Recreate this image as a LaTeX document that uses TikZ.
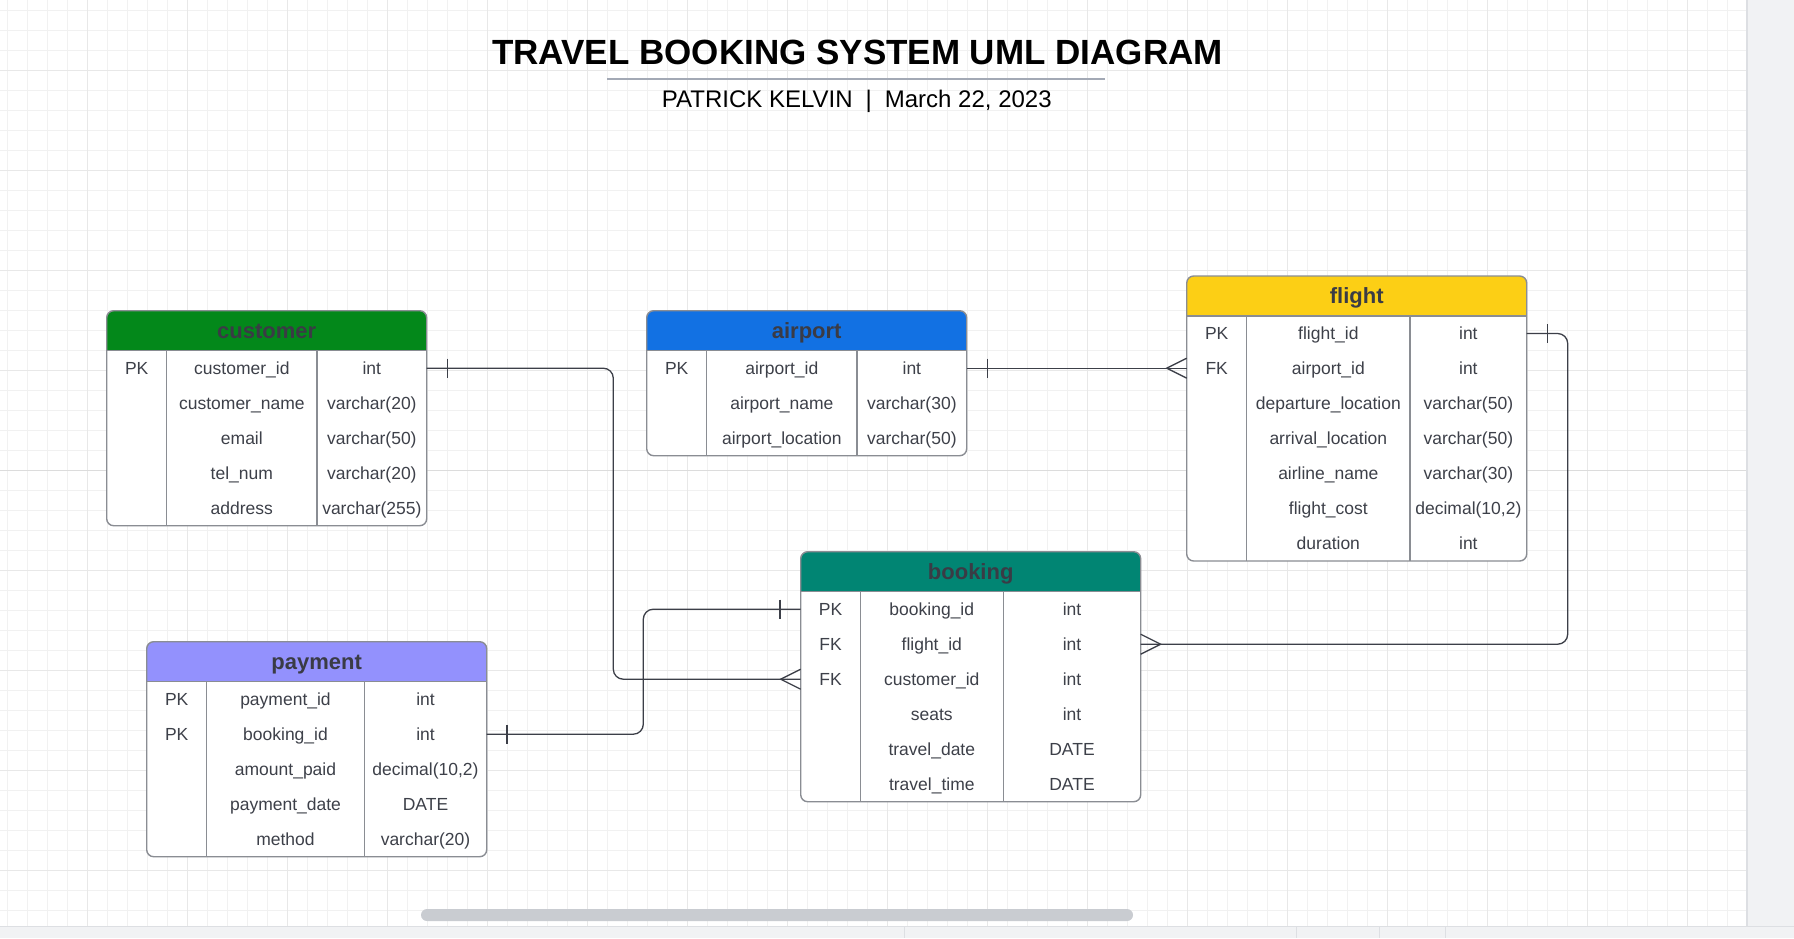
\documentclass[tikz,border=0pt]{standalone}
\usepackage{fontspec}
\setmainfont{Liberation Sans}
\usetikzlibrary{calc}
\definecolor{gminorc}{HTML}{F1F1F1}
\definecolor{gmajorc}{HTML}{E8E8E8}
\definecolor{gstrongc}{HTML}{DCDCDC}
\definecolor{tborder}{HTML}{8A8D93}
\definecolor{txt}{HTML}{3D4049}
\definecolor{htxt}{HTML}{3A3B45}
\definecolor{conncol}{HTML}{3C3F48}
\definecolor{cgreen}{HTML}{03881A}
\definecolor{cblue}{HTML}{1271E3}
\definecolor{cyellow}{HTML}{FCCF15}
\definecolor{cpurple}{HTML}{9391FD}
\definecolor{cteal}{HTML}{018573}
\definecolor{rulecol}{HTML}{A3A9B5}
\definecolor{panelc}{HTML}{F1F2F4}
\definecolor{panelline}{HTML}{DDDFE3}
\definecolor{scrollc}{HTML}{C9CCD1}

\tikzset{
  gminor/.style={gminorc, line width=1},
  gmajor/.style={gmajorc, line width=1},
  tline/.style={tborder, line width=1.4},
  tframe/.style={draw=tborder, line width=1.4, rounded corners=7, inner sep=0, outer sep=0},
  headtext/.style={text=htxt, font=\fontsize{22}{26}\selectfont\bfseries, inner sep=0, text height=15.8pt, text depth=0pt},
  celltext/.style={text=txt, font=\fontsize{17.5}{21}\selectfont, inner sep=0, text height=12.6pt, text depth=0pt},
  conn/.style={conncol, line width=1.3},
}

% #1 name, #2 x0, #3 y0, #4 xa, #5 xb, #6 x1, #7 nrows, #8 colour, #9 rows
\newcommand\ertable[9]{%
  \pgfmathsetmacro\erbot{#3+40+35*#7}%
  \pgfmathsetmacro\erw{#6-#2}%
  \pgfmathsetmacro\erh{\erbot-#3}%
  \begin{scope}
    \clip[rounded corners=7] (#2,#3) rectangle (#6,\erbot);
    \fill[white] (#2,#3) rectangle (#6,\erbot);
    \fill[#8] (#2,#3) rectangle (#6,#3+40);
  \end{scope}
  \draw[tline] (#2,#3+40) -- (#6,#3+40);
  \draw[tline] (#4,#3+40) -- (#4,\erbot);
  \draw[tline] (#5,#3+40) -- (#5,\erbot);
  \node[tframe, minimum width=\erw pt, minimum height=\erh pt, anchor=north west] (#1) at (#2,#3) {};
  \node[headtext] (#1-head) at ({(#2+#6)/2},#3+20) {#1};
  \foreach \ka/\fa/\ta [count=\ii] in {#9} {
    \node[celltext] (#1-\ii-k) at ({(#2+#4)/2},#3+40+35*\ii-17.5) {\ka};
    \node[celltext] (#1-\ii-f) at ({(#4+#5)/2},#3+40+35*\ii-17.5) {\fa};
    \node[celltext] (#1-\ii-t) at ({(#5+#6)/2},#3+40+35*\ii-17.5) {\ta};
  }
}
\newcommand\onemark[2]{\draw[conn] ($(#1)+(#2,-9.5)$) -- ($(#1)+(#2,9.5)$);}
\newcommand\manymark[2]{\draw[conn] ($(#1)+(0,-10)$) -- ($(#1)+(#2,0)$) -- ($(#1)+(0,10)$);}

\begin{document}
\begin{tikzpicture}[x=1pt,y=-1pt]
\useasboundingbox (0,0) rectangle (1794,938);
\fill[white] (0,0) rectangle (1794,938);
% grid
\foreach \x in {7,27,...,1747} \draw[gminor] (\x,0) -- (\x,926);
\foreach \y in {10.5,30.5,...,920} \draw[gminor] (0,\y) -- (1747,\y);
\foreach \x in {87,187,...,1687} \draw[gmajor] (\x,0) -- (\x,926);
\foreach \y in {70.5,170.5,...,900} \draw[gmajor] (0,\y) -- (1747,\y);
\draw[gstrongc, line width=1.4] (0,470.5) -- (1747,470.5);
% side panel and bottom strip
\fill[panelc] (1747,0) rectangle (1794,938);
\draw[panelline, line width=1.5] (1747,0) -- (1747,926);
\fill[panelc] (0,926) rectangle (1794,938);
\draw[panelline, line width=1] (0,926) -- (1794,926);
\foreach \x in {904,1296,1379,1445} \draw[panelline, line width=1] (\x,926) -- (\x,938);
\fill[scrollc, rounded corners=6] (421,909) rectangle (1133,921);

% title
\node[font=\fontsize{35}{40}\selectfont\bfseries, text=black] (title) at (857.5,52) {TRAVEL BOOKING SYSTEM UML DIAGRAM};
\draw[rulecol, line width=2] (607,78.7) -- (1105,78.7);
\node[font=\fontsize{24}{28}\selectfont, text=black, inner sep=0, text height=17pt, text depth=0pt] (subtitle) at (856.8,98.5) {PATRICK KELVIN\hspace{13pt}|\hspace{13pt}March 22, 2023};

% tables
\ertable{customer}{106.7}{310.7}{166.7}{317}{426.7}{5}{cgreen}{PK/customer\_id/int, {}/customer\_name/varchar(20), {}/email/varchar(50), {}/tel\_num/varchar(20), {}/address/varchar(255)}
\ertable{airport}{646.7}{310.7}{706.7}{857}{966.7}{3}{cblue}{PK/airport\_id/int, {}/airport\_name/varchar(30), {}/airport\_location/varchar(50)}
\ertable{flight}{1186.7}{276}{1246.7}{1410}{1526.7}{7}{cyellow}{PK/flight\_id/int, FK/airport\_id/int, {}/departure\_location/varchar(50), {}/arrival\_location/varchar(50), {}/airline\_name/varchar(30), {}/flight\_cost/{decimal(10,2)}, {}/duration/int}
\ertable{payment}{146.7}{641.7}{206.7}{364.3}{486.7}{5}{cpurple}{PK/payment\_id/int, PK/booking\_id/int, {}/amount\_paid/{decimal(10,2)}, {}/payment\_date/DATE, {}/method/varchar(20)}
\ertable{booking}{800.7}{551.7}{860.3}{1003.3}{1140.7}{6}{cteal}{PK/booking\_id/int, FK/flight\_id/int, FK/customer\_id/int, {}/seats/int, {}/travel\_date/DATE, {}/travel\_time/DATE}

% connectors
\coordinate (cx1) at (613.3,0);
\coordinate (cx3) at (1567.7,0);
\coordinate (cx4) at (643.3,0);
\draw[conn, rounded corners=10] (customer.east |- customer-1-f) -- (cx1 |- customer-1-f) -- (cx1 |- booking-3-f) -- (booking.west |- booking-3-f);
\onemark{customer.east |- customer-1-f}{20.6}
\manymark{booking.west |- booking-3-f}{-20}

\draw[conn] (airport.east |- airport-1-f) -- (flight.west |- airport-1-f);
\onemark{airport.east |- airport-1-f}{20.6}
\manymark{flight.west |- airport-1-f}{-20}

\draw[conn, rounded corners=10] (flight.east |- flight-1-f) -- (cx3 |- flight-1-f) -- (cx3 |- booking-2-f) -- (booking.east |- booking-2-f);
\onemark{flight.east |- flight-1-f}{21}
\manymark{booking.east |- booking-2-f}{20}

\draw[conn, rounded corners=10] (payment.east |- payment-2-f) -- (cx4 |- payment-2-f) -- (cx4 |- booking-1-f) -- (booking.west |- booking-1-f);
\onemark{payment.east |- payment-2-f}{20.3}
\onemark{booking.west |- booking-1-f}{-20.7}
\end{tikzpicture}
\end{document}
